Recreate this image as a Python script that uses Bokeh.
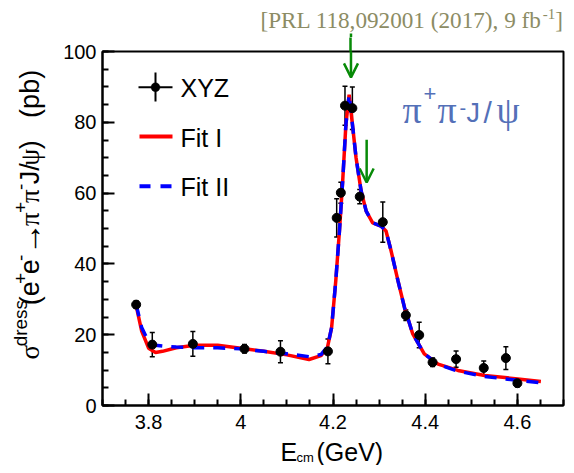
from math import pi
from bokeh.plotting import figure
from bokeh.layouts import column, row
from bokeh.core.properties import value
from bokeh.models import (Range1d, FixedTicker, ColumnDataSource, Whisker, TeeHead,
                          Label, Arrow, OpenHead, BoxAnnotation, LinearAxis)
from bokeh.embed import file_html
from bokeh.resources import INLINE

# ---------------- data ----------------
ecm = [3.773, 3.808, 3.896, 4.008, 4.086, 4.189, 4.208, 4.217, 4.226, 4.242,
       4.258, 4.308, 4.358, 4.387, 4.416, 4.467, 4.527, 4.575, 4.600]
xsec = [28.5, 17.2, 17.4, 16.0, 15.2, 15.3, 53.0, 60.1, 84.7, 84.0,
        59.0, 51.8, 25.5, 19.9, 12.2, 13.1, 10.6, 13.4, 6.3]
xsec_err = [1.0, 3.4, 3.5, 1.2, 3.1, 3.5, 5.4, 3.0, 5.5, 6.0,
            2.0, 5.7, 1.5, 3.6, 1.2, 2.3, 2.0, 3.2, 1.0]

fit1_x = [3.773, 3.785, 3.800, 3.815, 3.830, 3.860, 3.900, 3.950, 4.000, 4.050,
          4.100, 4.148, 4.174, 4.188, 4.197, 4.206, 4.214, 4.221, 4.228, 4.235,
          4.243, 4.250, 4.261, 4.272, 4.286, 4.304, 4.315, 4.326, 4.341, 4.355,
          4.373, 4.398, 4.428, 4.471, 4.529, 4.601, 4.651]
fit1_y = [28.2, 21.0, 16.2, 15.0, 15.3, 16.3, 17.0, 17.0, 16.2, 15.3,
          14.3, 13.0, 14.1, 16.4, 22.0, 35.2, 49.3, 63.4, 79.4, 87.8,
          78.4, 70.0, 60.6, 54.9, 51.6, 50.7, 49.3, 43.7, 35.2, 27.7,
          20.2, 14.6, 11.7, 9.9, 8.5, 7.5, 6.8]

fit2_x = [3.773, 3.785, 3.800, 3.815, 3.830, 3.860, 3.900, 3.950, 4.000, 4.050,
          4.100, 4.148, 4.174, 4.188, 4.197, 4.206, 4.214, 4.221, 4.228, 4.235,
          4.243, 4.250, 4.261, 4.272, 4.286, 4.304, 4.315, 4.326, 4.341, 4.355,
          4.373, 4.398, 4.428, 4.471, 4.529, 4.601, 4.651]
fit2_y = [28.5, 22.0, 18.0, 17.0, 16.8, 16.5, 16.3, 16.3, 16.0, 15.3,
          14.6, 13.8, 14.4, 16.6, 22.0, 35.2, 49.3, 63.4, 79.4, 87.8,
          78.4, 70.0, 60.6, 54.9, 51.6, 50.7, 49.3, 43.7, 35.2, 27.7,
          20.2, 14.6, 11.6, 9.7, 8.2, 7.1, 6.4]

arrow_x = [4.239, 4.273]
arrow_top = [105.1, 75.1]
arrow_tip = [92.7, 63.0]

x_major = [3.8, 4.0, 4.2, 4.4, 4.6]
y_major = [0, 20, 40, 60, 80, 100]
x_minor = [round(3.7 + 0.05 * i, 3) for i in range(21)]
y_minor = [5 * i for i in range(21)]

SANS = "Liberation Sans"
SERIF = "Liberation Serif"
GREEN = "#078a07"
OLIVE = "#8c8c64"
BLUE_T = "#5470b8"

# ---------------- page geometry (pixels) ----------------
TOP_H, LEFT_W, BOT_B, BOT_H = 37, 50, 32, 28
FRAME_L, FRAME_T, FRAME_W, FRAME_H = 102, 51, 461, 354
X0, X1, Y0, Y1 = 3.7, 4.7, 0.0, 100.0

# ---------------- main figure ----------------
p = figure(frame_width=FRAME_W, frame_height=FRAME_H,
           x_range=Range1d(X0, X1), y_range=Range1d(Y0, Y1),
           output_backend="svg", toolbar_location=None,
           min_border_left=FRAME_L - LEFT_W, min_border_right=3,
           min_border_top=FRAME_T - TOP_H, min_border_bottom=BOT_B)
p.background_fill_color = "white"
p.border_fill_color = "white"
p.xgrid.visible = False
p.ygrid.visible = False
p.outline_line_color = "black"
p.outline_line_width = 2

for ax, maj, mnr in ((p.xaxis[0], x_major, x_minor), (p.yaxis[0], y_major, y_minor)):
    ax.ticker = FixedTicker(ticks=maj, minor_ticks=mnr)
    ax.axis_line_width = 2
    ax.axis_line_color = "black"
    ax.major_tick_in = 12
    ax.major_tick_out = 0
    ax.minor_tick_in = 6
    ax.minor_tick_out = 0
    ax.major_tick_line_width = 2
    ax.minor_tick_line_width = 2
    ax.major_tick_line_color = "black"
    ax.minor_tick_line_color = "black"
    ax.major_label_text_font = SANS
    ax.major_label_text_font_size = "20px"
    ax.major_label_text_color = "black"
p.xaxis[0].major_label_standoff = 9
p.yaxis[0].major_label_standoff = 6

# fits
p.line(fit1_x, fit1_y, line_color="#ff0000", line_width=3.5)
p.line(fit2_x, fit2_y, line_color="#0000ff", line_width=3.5, line_dash="12 9")

# data points with error bars
src = ColumnDataSource(dict(x=ecm, y=xsec,
                            lo=[v - e for v, e in zip(xsec, xsec_err)],
                            hi=[v + e for v, e in zip(xsec, xsec_err)]))
p.add_layout(Whisker(base="x", lower="lo", upper="hi", source=src, dimension="height",
                     line_color="black", line_width=1.5,
                     upper_head=TeeHead(size=5, line_width=1.5, line_color="black"),
                     lower_head=TeeHead(size=5, line_width=1.5, line_color="black")))
p.scatter("x", "y", source=src, size=9, color="black")

# green arrows (inside the frame)
for xa, yt, yb in zip(arrow_x, arrow_top, arrow_tip):
    p.add_layout(Arrow(x_start=xa, y_start=yt, x_end=xa, y_end=yb,
                       line_color=GREEN, line_width=2.5,
                       end=OpenHead(size=14, line_color=GREEN, line_width=2.5)))

# part of the arrow shaft that lies in the plot's top border: drawn as an outward tick
out_x = [xa for xa, yt in zip(arrow_x, arrow_top) if yt > Y1]
top_ax = LinearAxis(ticker=FixedTicker(ticks=out_x, minor_ticks=[]),
                    axis_line_color=None, major_tick_in=0, major_tick_out=FRAME_T - TOP_H,
                    major_tick_line_color=GREEN, major_tick_line_width=2.5,
                    minor_tick_line_color=None, major_label_standoff=0,
                    major_label_text_font_size="0px",
                    major_label_overrides={x: "" for x in out_x})
p.add_layout(top_ax, "above")

# legend (manual, frame-relative screen units)
def seg(x0, y0, x1, y1, color, width, dash="solid"):
    p.add_layout(Arrow(x_start=x0, y_start=y0, x_end=x1, y_end=y1,
                       start_units="screen", end_units="screen", end=None,
                       line_color=color, line_width=width, line_dash=dash))

seg(36, 318.3, 70, 318.3, "black", 2)
seg(53, 333, 53, 304, "black", 2)
p.add_layout(BoxAnnotation(left=48.5, right=57.5, bottom=313.8, top=322.8,
                           left_units="screen", right_units="screen",
                           top_units="screen", bottom_units="screen",
                           fill_color="black", fill_alpha=1, line_color="black",
                           border_radius=5))
seg(37, 269, 70, 269, "#ff0000", 4)
seg(37, 219.3, 70, 219.3, "#0000ff", 4, "11 10")

def lab(text, x, y, size, font=SANS, color="black"):
    # x, y: frame-relative screen position of the text's vertical middle
    p.add_layout(Label(x=x, y=y, x_units="screen", y_units="screen", text=text,
                       text_font=font, text_font_size=f"{size}px", text_color=color,
                       text_align="left", text_baseline="middle"))

lab("XYZ", 78, 317.5, 25)
lab("Fit I", 78, 268, 25)
lab("Fit II", 78, 218.5, 25)

# pi+ pi- J/psi
lab("\u03c0", 300, 296, 38, SERIF, BLUE_T)
lab("+", 321, 312, 22, SANS, BLUE_T)
lab("\u03c0", 335, 296, 38, SERIF, BLUE_T)
lab("-", 357, 298, 20, SANS, BLUE_T)
lab("J", 364, 292.5, 27, SANS, BLUE_T)
lab("/", 381, 293.5, 30, SANS, BLUE_T)
lab("\u03c8", 394, 295, 37, SERIF, BLUE_T)

# ---------------- helper figures for texts outside the frame ----------------
def blank(ox, oy, w, h):
    f = figure(width=w, height=h, x_range=Range1d(ox, ox + w), y_range=Range1d(-(oy + h), -oy),
               output_backend="svg", toolbar_location=None, min_border=0,
               x_axis_type=None, y_axis_type=None)
    f.outline_line_color = None
    f.background_fill_color = "white"
    f.border_fill_color = "white"
    return f

def put(f, t, x, y, size, font=SANS, color="black", angle=0.0):
    # x, y: page pixel position of the text's vertical middle
    f.text(x=[x], y=[-y], text=[t], text_font=value(font), text_font_size=value(f"{size}px"),
           text_color=color, text_align="left", text_baseline="middle", angle=angle)

TOTAL_W = FRAME_L + FRAME_W + 3
MID_H = (FRAME_T - TOP_H) + FRAME_H + BOT_B

def px(xd):
    return FRAME_L + (xd - X0) / (X1 - X0) * FRAME_W

def py(yd):
    return FRAME_T + FRAME_H - (yd - Y0) / (Y1 - Y0) * FRAME_H

# top strip: reference text and the upper end of the arrow shaft
top = blank(0, 0, TOTAL_W, TOP_H)
TS, TX = 23.2, 260
put(top, "[PRL 118,092001 (2017), 9 fb", TX, 27.5 - 0.34 * TS, TS, SERIF, OLIVE)
put(top, "-1", TX + 12.166 * TS, 18.5 - 0.34 * 15, 15, SERIF, OLIVE)
put(top, "]", TX + 12.166 * TS + 12.5, 27.5 - 0.34 * TS, TS, SERIF, OLIVE)
for xa, yt in zip(arrow_x, arrow_top):
    if py(yt) < TOP_H:
        top.segment(x0=[px(xa)], y0=[-py(yt)], x1=[px(xa)], y1=[-TOP_H],
                    line_color=GREEN, line_width=2.5)

# left strip: y title (rotated, composed)
left = blank(0, TOP_H, LEFT_W, MID_H)
W = {"(": .333, ")": .333, " ": .278, "e": .556, "+": .584, "-": .333, "J": .5, "/": .278,
     "p": .556, "b": .556, "d": .556, "r": .333, "s": .5, "\u2192": 1.0,
     "\u03c3": .55, "\u03c0": .55, "\u03c8": .69}

def width(t, s):
    return sum(W.get(c, .556) for c in t) * s

F, FS, FA = 27, 19, 33
MAIN_B, SUP_B = 38.5, 26.5
pieces = [("\u03c3", F, SERIF, MAIN_B), ("dress", FS, SANS, SUP_B), ("(e", F, SANS, MAIN_B),
          ("+", FS, SANS, SUP_B), ("e", F, SANS, MAIN_B), ("-", FS, SANS, SUP_B),
          ("\u2192", FA, SANS, MAIN_B + 1.8), ("\u03c0", F, SERIF, MAIN_B), ("+", FS, SANS, SUP_B),
          ("\u03c0", F, SERIF, MAIN_B), ("-", FS, SANS, SUP_B), ("J/", F, SANS, MAIN_B),
          ("\u03c8", F, SERIF, MAIN_B), (")", F, SANS, MAIN_B)]
u = 385.0
for t, s, f, bx in pieces:
    put(left, t, bx - 0.35 * s, u, s, f, "black", angle=pi / 2)
    u -= width(t, s)
put(left, "(pb)", MAIN_B - 0.35 * F, 112.0, F, SANS, "black", angle=pi / 2)

# bottom strip: x title
oy_bot = TOP_H + MID_H
bot = blank(0, oy_bot, TOTAL_W, BOT_H)
put(bot, "E", 280, oy_bot + BOT_H / 2, 25)
put(bot, "cm", 296, 462 - 0.35 * 13, 13)
put(bot, "(GeV)", 316, oy_bot + BOT_H / 2, 25)

layout = column(top, row(left, p), bot)
open("out.html", "w").write(file_html(layout, INLINE))
